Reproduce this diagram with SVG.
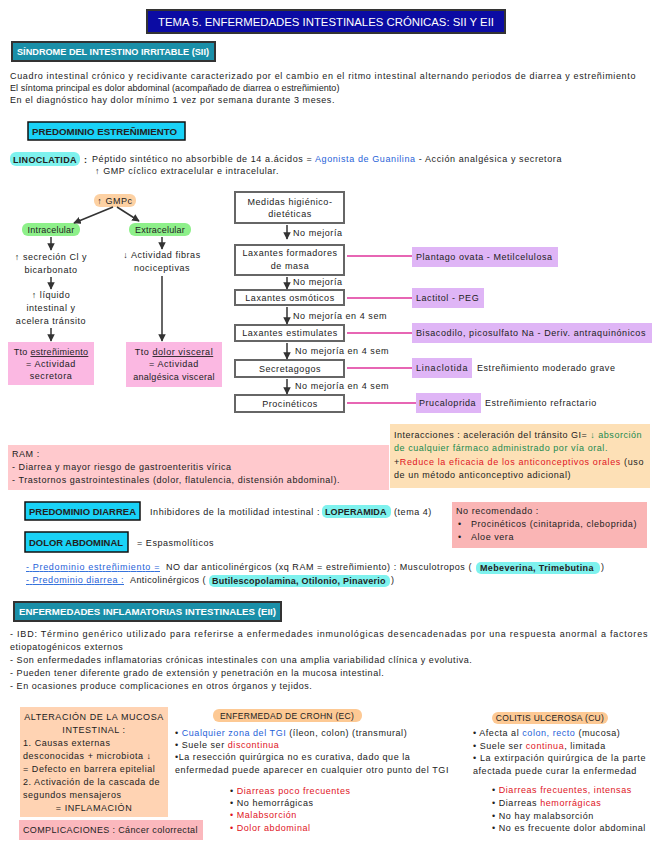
<svg xmlns="http://www.w3.org/2000/svg" width="656" height="848" viewBox="0 0 656 848">
<style>
text{font-family:"Liberation Sans","DejaVu Sans",sans-serif;font-size:9px;fill:#222;letter-spacing:0.55px}
.w{fill:#fff}
.b{font-weight:bold}
.c{text-anchor:middle}
.blue{fill:#1f62d8}
.red{fill:#e0141e}
.grn{fill:#1b8a4e}
.u{text-decoration:underline}
.hdr{stroke:#333;stroke-width:2}
.cy{fill:#19d2f7;stroke:#111;stroke-width:1.5}
.fb{fill:#fff;stroke:#666;stroke-width:2}
.ln{stroke:#e0359c;stroke-width:1.5}
.ar{stroke:#333;stroke-width:1.5;fill:none;marker-end:url(#ah)}
.lbl{fill:#dfb5f6}
.hl{fill:#7ef2ee}
.pk{fill:#fbb8e2}
</style>
<defs>
<marker id="ah" viewBox="0 0 10 10" refX="9" refY="5" markerWidth="5" markerHeight="5" orient="auto"><path d="M0,0L10,5L0,10z" fill="#333"/></marker>
</defs>
<rect width="656" height="848" fill="#fff"/>

<g id="title">
<rect x="147" y="10" width="358" height="23" fill="#0b0ba3" class="hdr"/>
<text x="326" y="25.5" class="w c" style="font-size:11px;letter-spacing:0" textLength="336" lengthAdjust="spacingAndGlyphs">TEMA 5. ENFERMEDADES INTESTINALES CRÓNICAS: SII Y EII</text>
</g>

<g id="sii-header">
<rect x="12" y="42" width="203" height="19" fill="#1a8fa8" class="hdr"/>
<text x="17" y="55" class="w b" style="font-size:8.5px;letter-spacing:0" textLength="192" lengthAdjust="spacingAndGlyphs">SÍNDROME DEL INTESTINO IRRITABLE (SII)</text>
</g>

<g id="sii-text">
<text x="10" y="79" textLength="626">Cuadro intestinal crónico y recidivante caracterizado por el cambio en el ritmo intestinal alternando periodos de diarrea y estreñimiento</text>
<text x="10" y="91" textLength="330">El síntoma principal es dolor abdominal (acompañado de diarrea o estreñimiento)</text>
<text x="10" y="103" textLength="325">En el diagnóstico hay dolor mínimo 1 vez por semana durante 3 meses.</text>
</g>

<g id="predominio-estrenimiento">
<rect x="28" y="122" width="157" height="18" class="cy"/>
<text x="32" y="134.5" class="b" style="font-size:8.5px;letter-spacing:0" textLength="145" lengthAdjust="spacingAndGlyphs">PREDOMINIO ESTREÑIMIENTO</text>
</g>

<g id="linaclotida">
<rect x="10" y="152" width="70" height="14" rx="6" class="hl"/>
<text x="13" y="162.5" class="b" textLength="64">LINOCLATIDA</text>
<text x="84" y="162.5" class="b">:</text>
<text x="92" y="162" textLength="470">Péptido sintético no absorbible de 14 a.ácidos = <tspan class="blue">Agonista de Guanilina</tspan> - Acción analgésica y secretora</text>
<text x="95" y="174" textLength="184">↑ GMP cíclico extracelular e intracelular.</text>
</g>

<g id="gmpc">
<rect x="94" y="194" width="42" height="13" rx="6" fill="#fdd1a3"/>
<text x="115" y="203.5" class="c">↑ GMPc</text>
</g>
<g id="intracelular">
<rect x="22" y="223" width="58" height="13" rx="6" fill="#8ef08a"/>
<text x="51" y="232.5" class="c" style="letter-spacing:0.2px">Intracelular</text>
</g>
<g id="extracelular">
<rect x="129" y="223" width="62" height="13" rx="6" fill="#8ef08a"/>
<text x="160" y="232.5" class="c" style="letter-spacing:0.2px">Extracelular</text>
</g>
<g id="secrecion">
<text x="51" y="260" class="c">↑ secreción Cl y</text>
<text x="51" y="273" class="c">bicarbonato</text>
</g>
<g id="liquido">
<text x="51" y="298" class="c">↑ líquido</text>
<text x="51" y="311" class="c">intestinal y</text>
<text x="51" y="324" class="c">acelera tránsito</text>
</g>
<g id="tto-estrenimiento">
<rect x="8" y="342" width="86" height="43" class="pk"/>
<text x="51" y="355" class="c" style="letter-spacing:0.3px">Tto <tspan class="u">estreñimiento</tspan></text>
<text x="51" y="367" class="c">= Actividad</text>
<text x="51" y="379" class="c">secretora</text>
</g>
<g id="fibras">
<text x="162" y="258" class="c">↓ Actividad fibras</text>
<text x="162" y="271" class="c">nociceptivas</text>
</g>
<g id="tto-dolor">
<rect x="126" y="342" width="96" height="45" class="pk"/>
<text x="174" y="355" class="c">Tto <tspan class="u">dolor visceral</tspan></text>
<text x="174" y="367" class="c">= Actividad</text>
<text x="174" y="380" class="c" style="letter-spacing:0.3px">analgésica visceral</text>
</g>

<g id="medidas">
<rect x="235" y="192" width="109" height="31" class="fb"/>
<text x="290" y="205" class="c">Medidas higiénico-</text>
<text x="290" y="217" class="c">dietéticas</text>
</g>
<g id="formadores">
<rect x="235" y="245" width="109" height="30" class="fb"/>
<text x="290" y="256" class="c">Laxantes formadores</text>
<text x="290" y="269" class="c">de masa</text>
</g>
<g id="osmoticos">
<rect x="235" y="290" width="109" height="15" class="fb"/>
<text x="290" y="301" class="c">Laxantes osmóticos</text>
</g>
<g id="estimulantes">
<rect x="235" y="325" width="109" height="16" class="fb"/>
<text x="290" y="336" class="c">Laxantes estimulates</text>
</g>
<g id="secretagogos">
<rect x="235" y="360" width="109" height="17" class="fb"/>
<text x="290" y="371.5" class="c">Secretagogos</text>
</g>
<g id="procineticos">
<rect x="235" y="395" width="109" height="17" class="fb"/>
<text x="290" y="406.5" class="c">Procinéticos</text>
</g>

<g id="plantago">
<rect x="412" y="247" width="146" height="20" class="lbl"/>
<text x="416" y="260">Plantago ovata - Metilcelulosa</text>
</g>
<g id="lactitol">
<rect x="412" y="288" width="72" height="20" class="lbl"/>
<text x="416" y="301">Lactitol - PEG</text>
</g>
<g id="bisacodilo">
<rect x="412" y="323" width="240" height="20" class="lbl"/>
<text x="416" y="336" textLength="230">Bisacodilo, picosulfato Na - Deriv. antraquinónicos</text>
</g>
<g id="linaclotida-lbl">
<rect x="412" y="358" width="60" height="20" class="lbl"/>
<text x="416" y="371" textLength="52">Linaclotida</text>
<text x="477" y="371">Estreñimiento moderado grave</text>
</g>
<g id="prucaloprida">
<rect x="416" y="393" width="65" height="20" class="lbl"/>
<text x="419" y="406">Prucaloprida</text>
<text x="485" y="406">Estreñimiento refractario</text>
</g>

<g id="connectors">
<path class="ar" d="M113,207L74,223"/>
<path class="ar" d="M117,207L139,221"/>
<path class="ar" d="M51,237V250"/>
<path class="ar" d="M51,277V289"/>
<path class="ar" d="M51,328V341"/>
<path class="ar" d="M162,237V249"/>
<path class="ar" d="M162,276V341"/>
<path class="ar" d="M287,225V239"/>
<path class="ar" d="M287,277V289"/>
<path class="ar" d="M287,307V324"/>
<path class="ar" d="M287,343V359"/>
<path class="ar" d="M287,379V394"/>
<path class="ln" d="M347,256H412M347,298H412M347,333H412M347,368H412M347,403H416"/>
<text x="293" y="236">No mejoría</text>
<text x="293" y="285">No mejoría</text>
<text x="293" y="319">No mejoría en 4 sem</text>
<text x="295" y="354">No mejoría en 4 sem</text>
<text x="295" y="389">No mejoría en 4 sem</text>
</g>

<g id="ram">
<rect x="8" y="445" width="381" height="45" fill="#ffc9cd"/>
<text x="12" y="457">RAM :</text>
<text x="12" y="470">- Diarrea y mayor riesgo de gastroenteritis vírica</text>
<text x="12" y="483" textLength="328">- Trastornos gastrointestinales (dolor, flatulencia, distensión abdominal).</text>
</g>

<g id="interacciones">
<rect x="390" y="424" width="260" height="64" fill="#fde0b6"/>
<text x="394" y="438" textLength="248">Interacciones : aceleración del tránsito GI= <tspan class="grn">↓ absorción</tspan></text>
<text x="394" y="451" class="grn">de cualquier fármaco administrado por vía oral.</text>
<text x="394" y="465" textLength="250">+<tspan class="red">Reduce la eficacia de los anticonceptivos orales</tspan> (uso</text>
<text x="394" y="478">de un método anticonceptivo adicional)</text>
</g>

<g id="predominio-diarrea">
<rect x="25" y="502" width="115" height="18" class="cy"/>
<text x="29" y="514.5" class="b" style="font-size:8.5px;letter-spacing:0" textLength="107" lengthAdjust="spacingAndGlyphs">PREDOMINIO DIARREA</text>
<text x="150" y="514.5" textLength="170">Inhibidores de la motilidad intestinal :</text>
<rect x="322" y="505" width="69" height="13" rx="5" class="hl"/>
<text x="325" y="514.5" class="b" textLength="62">LOPERAMIDA</text>
<text x="394" y="514.5">(tema 4)</text>
</g>

<g id="dolor-abdominal">
<rect x="25" y="532" width="103" height="20" class="cy"/>
<text x="29" y="545.5" class="b" style="font-size:8.5px;letter-spacing:0" textLength="94" lengthAdjust="spacingAndGlyphs">DOLOR ABDOMINAL</text>
<text x="137" y="546">= Espasmolíticos</text>
</g>

<g id="no-recomendado">
<rect x="452" y="502" width="195" height="46" fill="#fab5b5"/>
<text x="456" y="514">No recomendado :</text>
<text x="458" y="527">•</text><text x="471" y="527">Procinéticos (cinitaprida, cleboprida)</text>
<text x="458" y="540">•</text><text x="471" y="540">Aloe vera</text>
</g>

<g id="antiespasmodicos">
<text x="26" y="570" class="blue u" textLength="134">- Predominio estreñimiento =</text>
<text x="166" y="570" textLength="306">NO dar anticolinérgicos (xq RAM = estreñimiento) : Musculotropos (</text>
<rect x="476" y="562" width="124" height="12" rx="5" class="hl"/>
<text x="480" y="571" class="b" textLength="114">Mebeverina, Trimebutina</text>
<text x="601" y="570">)</text>
<text x="26" y="583" class="blue u" textLength="98">- Predominio diarrea :</text>
<text x="130" y="583" textLength="76">Anticolinérgicos (</text>
<rect x="209" y="575" width="181" height="12" rx="5" class="hl"/>
<text x="212" y="584" class="b" textLength="174">Butilescopolamina, Otilonio, Pinaverio</text>
<text x="391" y="583">)</text>
</g>

<g id="eii-header">
<rect x="14" y="602" width="267" height="19" fill="#1a8fa8" class="hdr"/>
<text x="19" y="615" class="w b" style="font-size:8.5px;letter-spacing:0" textLength="257" lengthAdjust="spacingAndGlyphs">ENFERMEDADES INFLAMATORIAS INTESTINALES (EII)</text>
</g>

<g id="eii-text">
<text x="10" y="637" textLength="638">- IBD: Término genérico utilizado para referirse a enfermedades inmunológicas desencadenadas por una respuesta anormal a factores</text>
<text x="10" y="650">etiopatogénicos externos</text>
<text x="10" y="663">- Son enfermedades inflamatorias crónicas intestinales con una amplia variabilidad clínica y evolutiva.</text>
<text x="10" y="676">- Pueden tener diferente grado de extensión y penetración en la mucosa intestinal.</text>
<text x="10" y="689">- En ocasiones produce complicaciones en otros órganos y tejidos.</text>
</g>

<g id="alteracion">
<rect x="20" y="707" width="148" height="110" fill="#ffd3b3"/>
<text x="94" y="720" class="c">ALTERACIÓN DE LA MUCOSA</text>
<text x="94" y="733" class="c">INTESTINAL :</text>
<text x="23" y="746">1. Causas externas</text>
<text x="23" y="759">desconocidas + microbiota ↓</text>
<text x="23" y="772">= Defecto en barrera epitelial</text>
<text x="23" y="785" textLength="137">2. Activación de la cascada de</text>
<text x="23" y="798">segundos mensajeros</text>
<text x="94" y="811" class="c">= INFLAMACIÓN</text>
</g>

<g id="complicaciones">
<rect x="19" y="820" width="184" height="20" fill="#fbb8bd"/>
<text x="23" y="833" textLength="175">COMPLICACIONES : Cáncer colorrectal</text>
</g>

<g id="crohn">
<rect x="213" y="709" width="149" height="13" rx="6" fill="#fdc994"/>
<text x="287" y="718.5" class="c" style="font-size:8.5px;letter-spacing:0.3px">ENFERMEDAD DE CROHN (EC)</text>
<text x="175" y="736">• <tspan class="blue">Cualquier zona del TGI</tspan> (íleon, colon) (transmural)</text>
<text x="175" y="748">• Suele ser <tspan class="red">discontinua</tspan></text>
<text x="175" y="760">•La resección quirúrgica no es curativa, dado que la</text>
<text x="175" y="773" textLength="274">enfermedad puede aparecer en cualquier otro punto del TGI</text>
<text x="230" y="794">• <tspan class="red">Diarreas poco frecuentes</tspan></text>
<text x="230" y="806">• No hemorrágicas</text>
<text x="230" y="818" class="red">• Malabsorción</text>
<text x="230" y="831" class="red">• Dolor abdominal</text>
</g>

<g id="colitis">
<rect x="492" y="712" width="116" height="12" rx="6" fill="#fdc994"/>
<text x="550" y="721" class="c" style="font-size:8.5px;letter-spacing:0.3px">COLITIS ULCEROSA (CU)</text>
<text x="473" y="736">• Afecta al <tspan class="blue">colon, recto</tspan> (mucosa)</text>
<text x="473" y="749">• Suele ser <tspan class="red">continua</tspan>, limitada</text>
<text x="473" y="761" textLength="173">• La extirpación quirúrgica de la parte</text>
<text x="473" y="774">afectada puede curar la enfermedad</text>
<text x="492" y="793">• <tspan class="red">Diarreas frecuentes, intensas</tspan></text>
<text x="492" y="806">• Diarreas <tspan class="red">hemorrágicas</tspan></text>
<text x="492" y="819">• No hay malabsorción</text>
<text x="492" y="831">• No es frecuente dolor abdominal</text>
</g>
</svg>
